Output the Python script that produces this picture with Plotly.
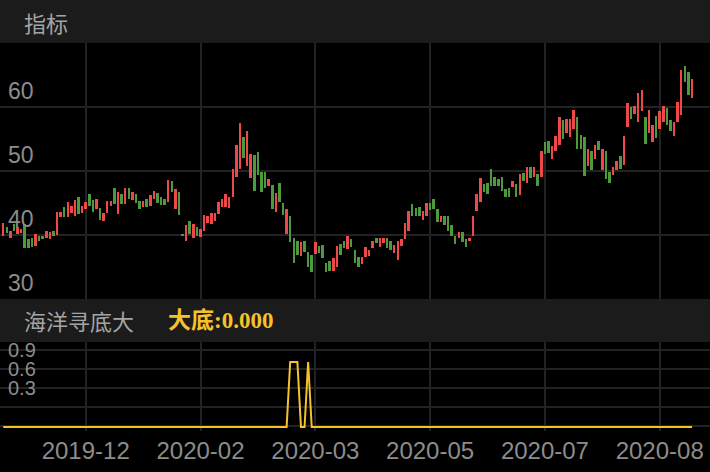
import plotly.graph_objects as go

# ---------------- data ----------------
opens = [
    39.9, 41.3, 39.5, 41.7, 40.2, 40.3, 41.7, 39.4, 39.5, 38.3,
    39.8, 39.9, 39.5, 39.4, 40.6, 40.0, 42.8, 44.3, 42.8, 43.5,
    43.0, 45.9, 43.5, 44.0, 46.4, 45.5, 44.0, 44.2, 42.2, 43.4,
    44.5, 47.3, 43.3, 46.4, 44.8, 47.3, 45.4, 46.4, 45.3, 44.3,
    45.6, 44.5, 45.6, 46.6, 45.9, 45.7, 45.2, 48.5, 44.0, 46.7,
    40.2, 39.1, 42.2, 39.6, 41.2, 39.7, 40.6, 41.8, 41.7, 42.2,
    43.3, 44.3, 44.3, 44.2, 45.9, 49.0, 50.3, 55.3, 50.8, 48.9,
    52.5, 53.0, 49.9, 49.9, 47.6, 47.8, 43.6, 48.2, 45.0, 40.2,
    43.0, 39.6, 39.1, 36.7, 39.1, 37.4, 36.8, 37.0, 38.3, 38.4,
    35.7, 36.0, 34.3, 35.0, 38.6, 39.1, 37.8, 39.3, 37.6, 36.5,
    35.5, 36.5, 36.7, 37.9, 39.5, 38.2, 38.8, 39.5, 39.1, 37.2,
    36.1, 38.3, 39.3, 40.7, 44.8, 44.2, 44.3, 42.4, 43.0, 45.0,
    45.6, 44.1, 42.0, 42.9, 42.9, 41.6, 39.9, 39.5, 40.5, 39.4,
    39.0, 39.8, 43.8, 45.1, 48.0, 48.1, 50.3, 49.0, 48.8, 49.0,
    47.2, 47.4, 47.5, 48.0, 46.3, 49.7, 48.2, 50.6, 49.0, 49.5,
    49.0, 54.5, 54.7, 51.8, 53.2, 54.1, 58.0, 56.0, 55.3, 56.6,
    58.5, 55.6, 55.3, 50.8, 53.2, 51.9, 54.7, 50.2, 53.1, 49.9,
    49.4, 50.2, 52.3, 50.9, 56.8, 60.0, 58.9, 57.7, 59.3, 58.5,
    55.9, 54.5, 58.6, 56.5, 57.7, 59.8, 58.0, 55.5, 57.7, 58.8,
    66.4, 65.5, 61.4,
]
closes = [
    41.8, 40.3, 40.7, 40.7, 41.2, 40.9, 37.9, 37.9, 38.1, 40.2,
    39.1, 39.3, 40.6, 40.4, 39.8, 43.6, 43.6, 42.8, 45.1, 44.6,
    45.4, 43.3, 44.6, 45.1, 44.6, 43.6, 45.6, 42.4, 43.5, 45.3,
    45.3, 44.8, 46.7, 44.8, 47.3, 45.7, 46.7, 45.0, 44.0, 45.3,
    44.3, 46.3, 46.8, 45.0, 44.7, 44.7, 48.6, 46.7, 47.2, 43.1,
    39.8, 41.5, 40.2, 41.7, 39.9, 40.9, 43.1, 42.9, 43.5, 43.4,
    45.1, 45.6, 46.4, 46.0, 50.3, 54.0, 57.5, 52.0, 56.2, 52.7,
    46.9, 49.4, 46.7, 47.4, 48.8, 44.1, 46.6, 45.2, 43.1, 44.1,
    38.9, 35.7, 36.9, 38.9, 37.3, 35.0, 34.2, 38.9, 37.2, 36.4,
    34.2, 34.4, 36.4, 38.3, 36.8, 37.9, 39.9, 38.1, 35.6, 35.0,
    36.5, 38.2, 37.7, 39.0, 38.8, 39.6, 39.5, 37.9, 37.6, 38.4,
    39.0, 39.3, 41.9, 43.8, 43.0, 43.0, 42.9, 43.8, 45.0, 43.9,
    44.1, 42.0, 43.0, 41.5, 40.7, 39.9, 38.6, 40.4, 38.9, 38.2,
    39.5, 43.0, 46.4, 48.9, 46.7, 46.4, 47.6, 47.7, 47.7, 46.9,
    45.9, 46.0, 48.5, 46.0, 49.5, 48.5, 50.6, 48.9, 50.6, 47.7,
    53.2, 52.7, 52.8, 53.9, 55.4, 58.4, 55.0, 58.2, 58.1, 59.5,
    53.5, 53.4, 49.2, 53.4, 50.2, 54.1, 53.3, 53.4, 48.7, 48.2,
    50.7, 51.6, 50.3, 55.4, 60.6, 58.1, 60.2, 62.2, 62.6, 54.2,
    59.5, 57.2, 55.1, 59.4, 60.2, 57.2, 56.2, 57.6, 60.8, 65.8,
    63.9, 61.9, 64.3,
]
# 海洋寻底大 signal
signal = [
    0, 0, 0, 0, 0, 0, 0, 0, 0, 0, 0, 0, 0, 0, 0, 0, 0, 0, 0, 0,
    0, 0, 0, 0, 0, 0, 0, 0, 0, 0, 0, 0, 0, 0, 0, 0, 0, 0, 0, 0,
    0, 0, 0, 0, 0, 0, 0, 0, 0, 0, 0, 0, 0, 0, 0, 0, 0, 0, 0, 0,
    0, 0, 0, 0, 0, 0, 0, 0, 0, 0, 0, 0, 0, 0, 0, 0, 0, 0, 0, 0,
    1, 1, 1, 0, 0, 1, 0, 0, 0, 0, 0, 0, 0, 0, 0, 0, 0, 0, 0, 0,
    0, 0, 0, 0, 0, 0, 0, 0, 0, 0, 0, 0, 0, 0, 0, 0, 0, 0, 0, 0,
    0, 0, 0, 0, 0, 0, 0, 0, 0, 0, 0, 0, 0, 0, 0, 0, 0, 0, 0, 0,
    0, 0, 0, 0, 0, 0, 0, 0, 0, 0, 0, 0, 0, 0, 0, 0, 0, 0, 0, 0,
    0, 0, 0, 0, 0, 0, 0, 0, 0, 0, 0, 0, 0, 0, 0, 0, 0, 0, 0, 0,
    0, 0, 0, 0, 0, 0, 0, 0, 0, 0, 0, 0, 0,
]
tick_index = [23, 55, 87, 119, 151, 183]
tick_labels = ["2019-12", "2020-02", "2020-03", "2020-05", "2020-07", "2020-08"]
price_ticks = [30, 40, 50, 60]
signal_tick_vals = [-0.3, 0, 0.3, 0.6, 0.9]
signal_tick_text = ["", "", "0.3", "0.6", "0.9"]
panel_title = "指标"
indicator_name = "海洋寻底大"
indicator_value = "大底:0.000"

# ---------------- style ----------------
W, H = 710, 472
RED = "#EF4848"
GREEN = "#4C9A3C"
YELLOW = "#F6C22B"
GRID = "#232327"
BAR_BG = "#1b1b1b"
LABEL = "#8c8c8c"
TITLE = "#a4a4a4"

idx = list(range(len(opens)))
base = [min(o, c) for o, c in zip(opens, closes)]
height = [max(abs(c - o), 0.12) for o, c in zip(opens, closes)]
colors = [RED if c >= o else GREEN for o, c in zip(opens, closes)]

def py(px):
    return 1 - px / H

fig = go.Figure()
fig.add_trace(go.Bar(x=idx, y=height, base=base, width=0.7,
                     marker=dict(color=colors, line=dict(width=0)),
                     xaxis="x", yaxis="y", hoverinfo="skip", showlegend=False))
fig.add_trace(go.Scatter(x=idx, y=signal, mode="lines",
                         line=dict(color=YELLOW, width=2),
                         xaxis="x2", yaxis="y3", hoverinfo="skip", showlegend=False))
fig.add_trace(go.Scatter(x=idx, y=signal, mode="lines", opacity=0,
                         line=dict(width=0),
                         xaxis="x2", yaxis="y4", hoverinfo="skip", showlegend=False))

xr = [-0.892, 197.02]
common_x = dict(range=xr, tickmode="array", tickvals=tick_index, ticktext=tick_labels,
                showgrid=True, gridcolor=GRID, gridwidth=2, zeroline=False,
                showline=False, ticks="", fixedrange=True)

fig.update_layout(
    width=W, height=H,
    margin=dict(l=0, r=0, t=0, b=0),
    paper_bgcolor="#000000", plot_bgcolor="#000000",
    font=dict(family="Liberation Sans, Noto Sans CJK SC", color=LABEL, size=22),
    hovermode=False,
    xaxis=dict(**common_x, domain=[0, 1], anchor="y", showticklabels=False),
    xaxis2=dict(**common_x, domain=[0, 1], anchor="y3", showticklabels=True,
                ticklabelstandoff=3,
                tickfont=dict(size=24, color=LABEL)),
    yaxis=dict(domain=[py(299), py(43)], range=[30, 70], anchor="x",
               tickmode="array", tickvals=price_ticks,
               ticklabelposition="inside top", ticklabelstandoff=5,
               showgrid=True, gridcolor=GRID,
               gridwidth=2, zeroline=False, showline=False, ticks="",
               fixedrange=True, tickfont=dict(size=23, color=LABEL)),
    yaxis3=dict(domain=[py(431), py(326)], range=[-0.0615, 1.554], anchor="x2",
                showgrid=False, showticklabels=False, zeroline=False, showline=False,
                fixedrange=True),
    yaxis4=dict(overlaying="y3", anchor="x2", range=[-0.372, 1.269],
                tickmode="array", tickvals=signal_tick_vals, ticktext=signal_tick_text,
                ticklabelposition="inside", ticklabelstandoff=5,
                showgrid=True, gridcolor=GRID, gridwidth=2,
                zeroline=False, showline=False, ticks="", side="left",
                fixedrange=True, tickfont=dict(size=20, color=LABEL)),
    bargap=0,
    shapes=[
        dict(type="rect", xref="paper", yref="paper", x0=0, x1=1, y0=py(43), y1=1,
             fillcolor=BAR_BG, line=dict(width=0), layer="above"),
        dict(type="rect", xref="paper", yref="paper", x0=0, x1=1, y0=py(342), y1=py(299),
             fillcolor=BAR_BG, line=dict(width=0), layer="above"),
    ],
    annotations=[
        dict(text=panel_title, xref="paper", yref="paper", x=22 / W, y=py(22),
             xanchor="left", yanchor="middle", showarrow=False,
             font=dict(family="Noto Sans CJK SC", size=22, color=TITLE)),
        dict(text=indicator_name, xref="paper", yref="paper", x=22 / W, y=py(320),
             xanchor="left", yanchor="middle", showarrow=False,
             font=dict(family="Noto Sans CJK SC", size=22, color=TITLE)),
        dict(text="<b>" + indicator_value + "</b>", xref="paper", yref="paper",
             x=166 / W, y=py(320), xanchor="left", yanchor="middle", showarrow=False,
             font=dict(family="Liberation Serif, Noto Sans CJK SC", size=23, color=YELLOW)),
    ],
)

fig.write_html(
    "out.html",
    config={"displayModeBar": False, "staticPlot": True},
    post_script="document.body.style.margin='0';document.body.style.padding='0';"
                "document.documentElement.style.overflow='hidden';",
)
